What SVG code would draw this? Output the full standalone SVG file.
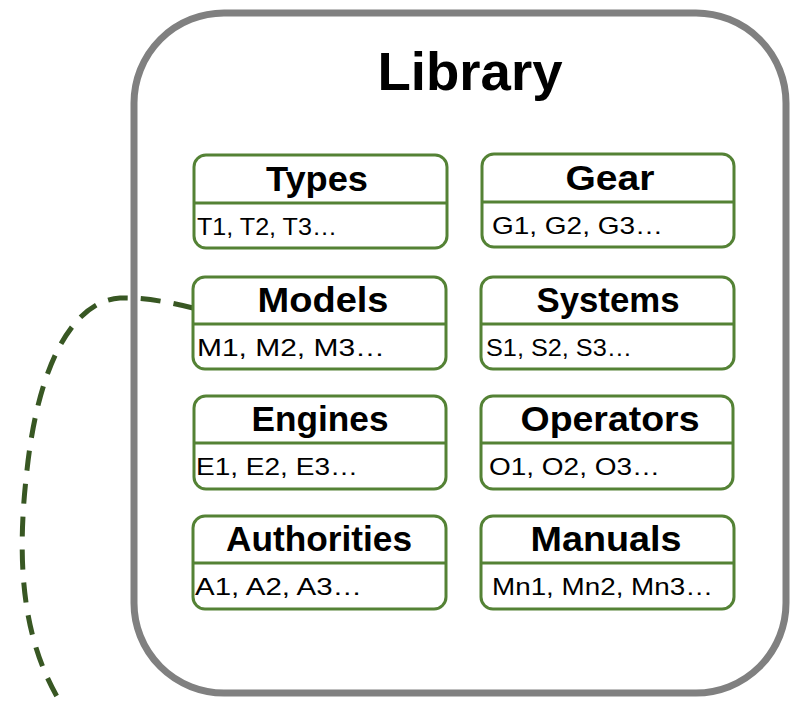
<svg xmlns="http://www.w3.org/2000/svg" width="792" height="701" viewBox="0 0 792 701">
<defs>
<style>
.box{fill:#fff;stroke:#548235;stroke-width:3}
.div{stroke:#548235;stroke-width:3}
.ttl{font-family:"Liberation Sans",Arial,sans-serif;font-weight:bold;font-size:35px;text-anchor:middle;fill:#000}
.itm{font-family:"Liberation Sans",Arial,sans-serif;font-size:24px;fill:#000}
.conn{fill:none;stroke:#385723;stroke-width:5;stroke-dasharray:20 13}
</style>
</defs>
<rect width="792" height="701" fill="#fff"/>
<g id="connectors">
<path class="conn" d="M 193,308 Q 150,297 120,298 C 80,300 40,350 27,470 C 14,580 28,650 62,705"/>
</g>
<g id="library">
<rect x="134" y="13" width="652" height="680" rx="90" ry="90" fill="none" stroke="#808080" stroke-width="7"/>
<text x="470" y="90" font-family="'Liberation Sans',Arial,sans-serif" font-weight="bold" font-size="54" text-anchor="middle" textLength="185" lengthAdjust="spacingAndGlyphs">Library</text>
</g>
<g id="types">
<rect class="box" x="194" y="155" width="253" height="93" rx="12"/>
<line class="div" x1="194" y1="203" x2="447" y2="203"/>
<text class="ttl" x="317" y="191" textLength="102" lengthAdjust="spacingAndGlyphs">Types</text>
<text class="itm" x="197" y="235" textLength="140" lengthAdjust="spacingAndGlyphs">T1, T2, T3…</text>
</g>
<g id="gear">
<rect class="box" x="482" y="154" width="252" height="93" rx="12"/>
<line class="div" x1="482" y1="202" x2="734" y2="202"/>
<text class="ttl" x="610" y="190" textLength="89" lengthAdjust="spacingAndGlyphs">Gear</text>
<text class="itm" x="492" y="234" textLength="171" lengthAdjust="spacingAndGlyphs">G1, G2, G3…</text>
</g>
<g id="models">
<rect class="box" x="193" y="277" width="253" height="92" rx="12"/>
<line class="div" x1="193" y1="324" x2="446" y2="324"/>
<text class="ttl" x="323" y="312" textLength="131" lengthAdjust="spacingAndGlyphs">Models</text>
<text class="itm" x="197" y="356" textLength="188" lengthAdjust="spacingAndGlyphs">M1, M2, M3…</text>
</g>
<g id="systems">
<rect class="box" x="481" y="277" width="253" height="92" rx="12"/>
<line class="div" x1="481" y1="324" x2="734" y2="324"/>
<text class="ttl" x="608" y="312" textLength="143" lengthAdjust="spacingAndGlyphs">Systems</text>
<text class="itm" x="486" y="356" textLength="146" lengthAdjust="spacingAndGlyphs">S1, S2, S3…</text>
</g>
<g id="engines">
<rect class="box" x="194" y="396" width="252" height="93" rx="12"/>
<line class="div" x1="194" y1="443" x2="446" y2="443"/>
<text class="ttl" x="320" y="431" textLength="137" lengthAdjust="spacingAndGlyphs">Engines</text>
<text class="itm" x="196" y="475" textLength="162" lengthAdjust="spacingAndGlyphs">E1, E2, E3…</text>
</g>
<g id="operators">
<rect class="box" x="481" y="396" width="252" height="93" rx="12"/>
<line class="div" x1="481" y1="443" x2="733" y2="443"/>
<text class="ttl" x="610" y="431" textLength="179" lengthAdjust="spacingAndGlyphs">Operators</text>
<text class="itm" x="489" y="475" textLength="171" lengthAdjust="spacingAndGlyphs">O1, O2, O3…</text>
</g>
<g id="authorities">
<rect class="box" x="193" y="516" width="253" height="93" rx="12"/>
<line class="div" x1="193" y1="563" x2="446" y2="563"/>
<text class="ttl" x="319" y="551" textLength="186" lengthAdjust="spacingAndGlyphs">Authorities</text>
<text class="itm" x="195" y="595" textLength="167" lengthAdjust="spacingAndGlyphs">A1, A2, A3…</text>
</g>
<g id="manuals">
<rect class="box" x="481" y="516" width="253" height="93" rx="12"/>
<line class="div" x1="481" y1="563" x2="734" y2="563"/>
<text class="ttl" x="606" y="551" textLength="151" lengthAdjust="spacingAndGlyphs">Manuals</text>
<text class="itm" x="492" y="595" textLength="221" lengthAdjust="spacingAndGlyphs">Mn1, Mn2, Mn3…</text>
</g>
</svg>
